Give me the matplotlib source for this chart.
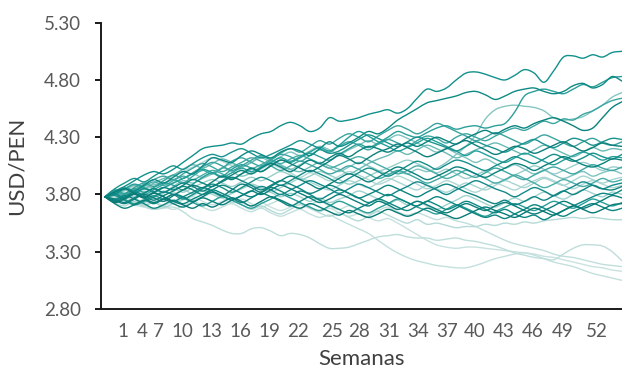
import numpy as np
import matplotlib
matplotlib.use('Agg')
import matplotlib.pyplot as plt
import matplotlib.colors as mcolors
from matplotlib.path import Path
from matplotlib.patches import PathPatch

plt.rcParams['font.family'] = ['Lato', 'DejaVu Sans']

# simulated USD/PEN paths, one value per week (week 0 .. 53)
sim01 = [3.78, 3.83, 3.87, 3.92, 3.97, 4.00, 3.98, 4.02, 4.08, 4.14,
         4.20, 4.22, 4.23, 4.25, 4.24, 4.29, 4.33, 4.35, 4.40, 4.43,
         4.40, 4.35, 4.38, 4.47, 4.44, 4.45, 4.47, 4.50, 4.52, 4.54,
         4.51, 4.55, 4.64, 4.72, 4.70, 4.73, 4.80, 4.86, 4.87, 4.85,
         4.82, 4.80, 4.84, 4.89, 4.86, 4.78, 4.88, 5.00, 5.01, 4.99,
         5.02, 5.00, 5.04, 5.05]
sim02 = [3.78, 3.80, 3.85, 3.83, 3.88, 3.93, 3.90, 3.95, 4.00, 3.98,
         4.05, 4.12, 4.10, 4.08, 4.14, 4.18, 4.15, 4.12, 4.17, 4.20,
         4.18, 4.14, 4.20, 4.26, 4.22, 4.25, 4.30, 4.35, 4.33, 4.38,
         4.45, 4.50, 4.55, 4.60, 4.62, 4.64, 4.66, 4.69, 4.70, 4.67,
         4.63, 4.66, 4.70, 4.72, 4.73, 4.70, 4.68, 4.70, 4.75, 4.77,
         4.73, 4.76, 4.83, 4.79]
sim03 = [3.78, 3.76, 3.80, 3.85, 3.82, 3.86, 3.90, 3.88, 3.84, 3.89,
         3.95, 3.99, 3.96, 4.02, 4.06, 4.03, 4.00, 4.05, 4.10, 4.08,
         4.12, 4.16, 4.13, 4.10, 4.15, 4.20, 4.24, 4.21, 4.25, 4.30,
         4.35, 4.32, 4.30, 4.34, 4.38, 4.40, 4.37, 4.39, 4.40, 4.38,
         4.40, 4.42, 4.52, 4.66, 4.70, 4.72, 4.70, 4.68, 4.72, 4.76,
         4.74, 4.78, 4.82, 4.83]
sim04 = [3.78, 3.81, 3.79, 3.84, 3.88, 3.85, 3.82, 3.87, 3.92, 3.90,
         3.94, 3.98, 4.03, 4.00, 3.96, 3.99, 4.04, 4.08, 4.05, 4.02,
         4.06, 4.10, 4.07, 4.03, 4.00, 4.04, 4.08, 4.05, 4.01, 3.98,
         4.00, 3.98, 4.02, 4.00, 4.03, 4.08, 4.15, 4.22, 4.32, 4.46,
         4.54, 4.57, 4.58, 4.57, 4.56, 4.53, 4.47, 4.45, 4.46, 4.48,
         4.53, 4.58, 4.65, 4.69]
sim05 = [3.78, 3.82, 3.86, 3.83, 3.80, 3.84, 3.89, 3.93, 3.90, 3.96,
         4.01, 3.98, 4.03, 4.09, 4.12, 4.08, 4.05, 4.10, 4.15, 4.13,
         4.09, 4.14, 4.19, 4.17, 4.22, 4.26, 4.23, 4.19, 4.24, 4.28,
         4.25, 4.22, 4.27, 4.31, 4.29, 4.25, 4.30, 4.33, 4.30, 4.27,
         4.31, 4.35, 4.38, 4.36, 4.40, 4.44, 4.42, 4.46, 4.45, 4.50,
         4.53, 4.58, 4.62, 4.64]
sim06 = [3.78, 3.74, 3.77, 3.81, 3.78, 3.82, 3.86, 3.84, 3.88, 3.93,
         3.90, 3.87, 3.92, 3.97, 4.01, 3.98, 4.03, 4.07, 4.04, 4.00,
         4.05, 4.10, 4.07, 4.12, 4.16, 4.13, 4.18, 4.22, 4.20, 4.17,
         4.21, 4.25, 4.22, 4.26, 4.30, 4.27, 4.24, 4.29, 4.33, 4.36,
         4.33, 4.37, 4.40, 4.38, 4.42, 4.45, 4.47, 4.44, 4.40, 4.36,
         4.38, 4.47, 4.56, 4.61]
sim07 = [3.78, 3.85, 3.90, 3.94, 3.91, 3.96, 4.01, 4.05, 4.02, 4.07,
         4.12, 4.15, 4.13, 4.17, 4.20, 4.16, 4.12, 4.15, 4.19, 4.23,
         4.27, 4.24, 4.20, 4.16, 4.18, 4.23, 4.28, 4.32, 4.29, 4.25,
         4.22, 4.26, 4.30, 4.27, 4.24, 4.21, 4.18, 4.22, 4.26, 4.23,
         4.20, 4.17, 4.21, 4.25, 4.28, 4.24, 4.21, 4.25, 4.29, 4.27,
         4.23, 4.26, 4.29, 4.28]
sim08 = [3.78, 3.75, 3.72, 3.76, 3.80, 3.77, 3.74, 3.79, 3.84, 3.88,
         3.86, 3.91, 3.96, 3.93, 3.98, 4.03, 4.00, 4.05, 4.10, 4.07,
         4.03, 4.00, 4.04, 4.09, 4.14, 4.11, 4.07, 4.12, 4.17, 4.20,
         4.24, 4.21, 4.17, 4.13, 4.16, 4.20, 4.24, 4.27, 4.23, 4.19,
         4.15, 4.18, 4.22, 4.20, 4.16, 4.19, 4.23, 4.26, 4.22, 4.18,
         4.21, 4.25, 4.23, 4.22]
sim09 = [3.78, 3.80, 3.84, 3.88, 3.85, 3.90, 3.94, 3.97, 4.02, 4.06,
         4.03, 4.07, 4.11, 4.08, 4.04, 4.08, 4.13, 4.10, 4.06, 4.02,
         4.00, 4.04, 4.08, 4.05, 4.02, 3.98, 4.02, 4.07, 4.11, 4.14,
         4.18, 4.15, 4.19, 4.23, 4.20, 4.16, 4.12, 4.15, 4.19, 4.22,
         4.25, 4.22, 4.18, 4.15, 4.19, 4.23, 4.20, 4.16, 4.13, 4.17,
         4.21, 4.18, 4.20, 4.19]
sim10 = [3.78, 3.79, 3.75, 3.71, 3.74, 3.78, 3.82, 3.80, 3.76, 3.80,
         3.85, 3.89, 3.86, 3.82, 3.86, 3.91, 3.95, 3.92, 3.88, 3.92,
         3.97, 4.01, 3.98, 3.94, 3.90, 3.94, 3.99, 4.03, 4.00, 3.96,
         4.00, 4.05, 4.09, 4.06, 4.02, 4.06, 4.10, 4.08, 4.04, 4.01,
         4.05, 4.09, 4.13, 4.10, 4.07, 4.11, 4.15, 4.12, 4.09, 4.12,
         4.16, 4.13, 4.11, 4.15]
sim11 = [3.78, 3.72, 3.68, 3.71, 3.75, 3.72, 3.76, 3.80, 3.78, 3.74,
         3.78, 3.82, 3.79, 3.84, 3.89, 3.86, 3.82, 3.87, 3.92, 3.96,
         3.93, 3.89, 3.85, 3.89, 3.94, 3.98, 3.95, 3.91, 3.95, 4.00,
         4.04, 4.01, 3.97, 3.93, 3.96, 4.00, 4.04, 4.02, 3.98, 3.95,
         3.99, 4.03, 4.07, 4.05, 4.01, 4.05, 4.09, 4.13, 4.10, 4.06,
         4.04, 4.07, 4.11, 4.10]
sim12 = [3.78, 3.83, 3.80, 3.84, 3.89, 3.93, 3.96, 3.93, 3.98, 4.03,
         4.07, 4.04, 4.00, 4.04, 4.08, 4.12, 4.09, 4.05, 4.01, 4.05,
         4.09, 4.06, 4.02, 3.98, 4.01, 4.05, 4.02, 3.98, 3.94, 3.97,
         4.01, 3.98, 3.94, 3.90, 3.93, 3.97, 4.01, 3.98, 3.95, 3.99,
         4.03, 4.00, 3.96, 3.93, 3.97, 4.01, 4.04, 4.01, 3.98, 4.02,
         4.06, 4.03, 4.01, 4.04]
sim13 = [3.78, 3.76, 3.80, 3.77, 3.73, 3.77, 3.81, 3.85, 3.82, 3.86,
         3.90, 3.93, 3.90, 3.87, 3.91, 3.95, 3.92, 3.96, 4.00, 3.97,
         3.93, 3.96, 4.00, 3.97, 3.93, 3.89, 3.92, 3.96, 4.00, 4.03,
         4.07, 4.10, 4.07, 4.03, 3.99, 4.02, 3.98, 3.94, 3.97, 4.00,
         3.96, 3.93, 3.97, 4.01, 4.05, 4.02, 3.98, 4.01, 4.05, 4.08,
         4.05, 4.01, 4.04, 4.03]
sim14 = [3.78, 3.74, 3.77, 3.74, 3.70, 3.73, 3.69, 3.72, 3.76, 3.79,
         3.83, 3.80, 3.77, 3.81, 3.85, 3.88, 3.85, 3.82, 3.86, 3.90,
         3.94, 3.91, 3.87, 3.84, 3.88, 3.92, 3.89, 3.86, 3.90, 3.94,
         3.91, 3.87, 3.84, 3.88, 3.85, 3.82, 3.86, 3.90, 3.87, 3.84,
         3.88, 3.92, 3.89, 3.86, 3.90, 3.94, 3.91, 3.88, 3.92, 3.96,
         3.93, 3.90, 3.93, 3.95]
sim15 = [3.78, 3.81, 3.77, 3.81, 3.85, 3.82, 3.78, 3.74, 3.78, 3.82,
         3.86, 3.83, 3.79, 3.75, 3.79, 3.83, 3.87, 3.84, 3.80, 3.84,
         3.88, 3.92, 3.89, 3.85, 3.81, 3.85, 3.89, 3.86, 3.82, 3.79,
         3.83, 3.87, 3.91, 3.88, 3.84, 3.80, 3.84, 3.88, 3.92, 3.89,
         3.85, 3.82, 3.78, 3.82, 3.86, 3.83, 3.79, 3.83, 3.87, 3.91,
         3.88, 3.85, 3.88, 3.90]
sim16 = [3.78, 3.74, 3.78, 3.82, 3.79, 3.75, 3.79, 3.83, 3.87, 3.84,
         3.80, 3.84, 3.88, 3.85, 3.81, 3.78, 3.82, 3.86, 3.83, 3.79,
         3.83, 3.80, 3.76, 3.80, 3.84, 3.81, 3.77, 3.73, 3.76, 3.80,
         3.77, 3.73, 3.70, 3.74, 3.71, 3.67, 3.70, 3.74, 3.71, 3.67,
         3.64, 3.67, 3.63, 3.60, 3.62, 3.58, 3.62, 3.66, 3.70, 3.74,
         3.78, 3.81, 3.80, 3.84]
sim17 = [3.78, 3.82, 3.85, 3.81, 3.77, 3.73, 3.76, 3.72, 3.69, 3.73,
         3.77, 3.74, 3.71, 3.75, 3.79, 3.83, 3.80, 3.84, 3.88, 3.85,
         3.81, 3.77, 3.73, 3.76, 3.80, 3.77, 3.73, 3.70, 3.74, 3.71,
         3.67, 3.70, 3.74, 3.71, 3.67, 3.64, 3.68, 3.72, 3.69, 3.66,
         3.70, 3.73, 3.70, 3.66, 3.63, 3.66, 3.70, 3.74, 3.71, 3.68,
         3.71, 3.75, 3.79, 3.77]
sim18 = [3.78, 3.80, 3.76, 3.72, 3.75, 3.79, 3.76, 3.80, 3.77, 3.73,
         3.70, 3.74, 3.78, 3.75, 3.71, 3.68, 3.72, 3.76, 3.80, 3.77,
         3.73, 3.69, 3.66, 3.70, 3.74, 3.71, 3.67, 3.64, 3.68, 3.72,
         3.76, 3.73, 3.69, 3.66, 3.63, 3.67, 3.71, 3.68, 3.64, 3.61,
         3.65, 3.69, 3.72, 3.69, 3.66, 3.70, 3.74, 3.71, 3.68, 3.72,
         3.76, 3.73, 3.70, 3.73]
sim19 = [3.78, 3.75, 3.79, 3.76, 3.72, 3.68, 3.71, 3.75, 3.72, 3.76,
         3.80, 3.84, 3.81, 3.77, 3.73, 3.77, 3.81, 3.78, 3.74, 3.70,
         3.74, 3.78, 3.75, 3.71, 3.67, 3.64, 3.68, 3.72, 3.76, 3.73,
         3.69, 3.66, 3.70, 3.74, 3.78, 3.75, 3.71, 3.67, 3.63, 3.60,
         3.62, 3.59, 3.63, 3.67, 3.71, 3.68, 3.64, 3.61, 3.65, 3.69,
         3.72, 3.69, 3.66, 3.68]
sim20 = [3.78, 3.73, 3.70, 3.74, 3.71, 3.67, 3.70, 3.74, 3.78, 3.75,
         3.71, 3.74, 3.78, 3.75, 3.71, 3.67, 3.70, 3.66, 3.63, 3.67,
         3.71, 3.68, 3.64, 3.61, 3.64, 3.60, 3.57, 3.61, 3.65, 3.62,
         3.58, 3.55, 3.58, 3.54, 3.55, 3.53, 3.51, 3.52, 3.52, 3.54,
         3.53, 3.55, 3.54, 3.56, 3.55, 3.57, 3.58, 3.59, 3.60, 3.59,
         3.60, 3.59, 3.58, 3.58]
sim21 = [3.78, 3.76, 3.74, 3.71, 3.69, 3.67, 3.68, 3.69, 3.65, 3.59,
         3.56, 3.53, 3.49, 3.46, 3.46, 3.50, 3.51, 3.48, 3.44, 3.46,
         3.45, 3.42, 3.37, 3.33, 3.33, 3.34, 3.37, 3.40, 3.43, 3.44,
         3.45, 3.43, 3.42, 3.42, 3.40, 3.41, 3.42, 3.40, 3.39, 3.37,
         3.35, 3.32, 3.29, 3.27, 3.25, 3.24, 3.23, 3.28, 3.33, 3.36,
         3.36, 3.35, 3.30, 3.22]
sim22 = [3.78, 3.75, 3.78, 3.74, 3.71, 3.74, 3.70, 3.67, 3.70, 3.73,
         3.69, 3.66, 3.69, 3.72, 3.68, 3.65, 3.68, 3.64, 3.61, 3.64,
         3.67, 3.63, 3.60, 3.62, 3.58, 3.54, 3.50, 3.46, 3.40, 3.34,
         3.29, 3.25, 3.22, 3.20, 3.18, 3.17, 3.16, 3.16, 3.18, 3.21,
         3.24, 3.26, 3.28, 3.29, 3.27, 3.24, 3.21, 3.19, 3.17, 3.14,
         3.11, 3.09, 3.07, 3.05]
sim23 = [3.78, 3.80, 3.76, 3.73, 3.76, 3.79, 3.75, 3.72, 3.75, 3.78,
         3.74, 3.71, 3.74, 3.77, 3.73, 3.70, 3.73, 3.69, 3.66, 3.69,
         3.72, 3.68, 3.65, 3.68, 3.64, 3.61, 3.63, 3.60, 3.57, 3.59,
         3.55, 3.50, 3.45, 3.40, 3.36, 3.34, 3.33, 3.34, 3.34, 3.33,
         3.32, 3.31, 3.30, 3.29, 3.28, 3.26, 3.25, 3.23, 3.21, 3.19,
         3.17, 3.16, 3.14, 3.13]
sim24 = [3.78, 3.82, 3.79, 3.83, 3.87, 3.91, 3.88, 3.92, 3.96, 3.93,
         3.97, 4.01, 3.98, 3.94, 3.98, 4.02, 4.06, 4.10, 4.07, 4.11,
         4.14, 4.11, 4.07, 4.03, 4.06, 4.10, 4.13, 4.10, 4.06, 4.02,
         3.98, 4.01, 4.05, 4.02, 3.98, 3.94, 3.97, 4.01, 3.98, 3.94,
         3.90, 3.93, 3.97, 3.94, 3.90, 3.86, 3.89, 3.93, 3.90, 3.87,
         3.90, 3.94, 3.91, 3.93]
sim25 = [3.78, 3.76, 3.73, 3.77, 3.81, 3.85, 3.82, 3.86, 3.90, 3.87,
         3.83, 3.87, 3.91, 3.95, 3.92, 3.88, 3.84, 3.88, 3.92, 3.89,
         3.85, 3.81, 3.84, 3.88, 3.85, 3.81, 3.77, 3.80, 3.84, 3.88,
         3.85, 3.81, 3.78, 3.82, 3.86, 3.89, 3.86, 3.82, 3.79, 3.75,
         3.72, 3.75, 3.71, 3.74, 3.78, 3.75, 3.79, 3.83, 3.80, 3.84,
         3.88, 3.85, 3.84, 3.87]
sim26 = [3.78, 3.81, 3.85, 3.89, 3.86, 3.82, 3.86, 3.90, 3.94, 3.98,
         4.02, 3.99, 3.95, 3.99, 4.03, 4.00, 4.04, 4.08, 4.12, 4.09,
         4.13, 4.17, 4.21, 4.18, 4.23, 4.30, 4.35, 4.31, 4.26, 4.22,
         4.18, 4.21, 4.25, 4.29, 4.26, 4.22, 4.18, 4.14, 4.18, 4.15,
         4.11, 4.08, 4.12, 4.16, 4.13, 4.09, 4.06, 4.10, 4.14, 4.17,
         4.14, 4.10, 4.13, 4.12]
sim27 = [3.78, 3.77, 3.81, 3.78, 3.82, 3.79, 3.83, 3.80, 3.84, 3.81,
         3.85, 3.82, 3.78, 3.81, 3.85, 3.89, 3.86, 3.82, 3.78, 3.81,
         3.78, 3.74, 3.77, 3.73, 3.76, 3.79, 3.83, 3.80, 3.76, 3.72,
         3.75, 3.71, 3.74, 3.70, 3.67, 3.71, 3.75, 3.79, 3.76, 3.72,
         3.69, 3.73, 3.77, 3.74, 3.78, 3.82, 3.79, 3.76, 3.80, 3.84,
         3.81, 3.78, 3.82, 3.80]
sim28 = [3.78, 3.80, 3.84, 3.81, 3.85, 3.89, 3.86, 3.90, 3.94, 3.98,
         3.95, 3.99, 4.03, 4.07, 4.04, 4.08, 4.12, 4.09, 4.13, 4.17,
         4.14, 4.18, 4.22, 4.19, 4.15, 4.19, 4.23, 4.27, 4.24, 4.28,
         4.32, 4.29, 4.25, 4.21, 4.17, 4.20, 4.16, 4.12, 4.08, 4.11,
         4.07, 4.03, 4.06, 4.02, 3.98, 4.01, 3.97, 3.94, 3.97, 4.00,
         3.96, 3.99, 4.01, 3.98]
sim29 = [3.78, 3.73, 3.76, 3.80, 3.77, 3.81, 3.78, 3.74, 3.71, 3.68,
         3.72, 3.69, 3.73, 3.77, 3.74, 3.70, 3.74, 3.78, 3.75, 3.71,
         3.68, 3.72, 3.69, 3.65, 3.62, 3.66, 3.63, 3.60, 3.63, 3.67,
         3.64, 3.61, 3.64, 3.68, 3.65, 3.62, 3.59, 3.62, 3.66, 3.69,
         3.66, 3.63, 3.60, 3.64, 3.68, 3.65, 3.62, 3.66, 3.70, 3.67,
         3.64, 3.67, 3.71, 3.72]
sim30 = [3.78, 3.84, 3.81, 3.86, 3.90, 3.87, 3.92, 3.97, 3.94, 3.99,
         4.04, 4.08, 4.05, 4.01, 4.05, 4.10, 4.14, 4.11, 4.16, 4.20,
         4.17, 4.22, 4.27, 4.24, 4.29, 4.33, 4.30, 4.26, 4.31, 4.36,
         4.40, 4.37, 4.33, 4.37, 4.42, 4.39, 4.35, 4.31, 4.27, 4.30,
         4.34, 4.31, 4.27, 4.24, 4.28, 4.32, 4.29, 4.25, 4.22, 4.26,
         4.29, 4.25, 4.23, 4.26]
sim31 = [3.78, 3.79, 3.83, 3.87, 3.84, 3.88, 3.92, 3.96, 4.00, 4.04,
         4.08, 4.12, 4.09, 4.05, 4.01, 3.98, 4.02, 4.06, 4.03, 3.99,
         3.95, 3.99, 3.96, 3.92, 3.96, 4.00, 3.97, 3.93, 3.89, 3.92,
         3.96, 3.93, 3.89, 3.85, 3.88, 3.92, 3.89, 3.85, 3.82, 3.86,
         3.90, 3.87, 3.84, 3.88, 3.92, 3.95, 3.92, 3.88, 3.85, 3.89,
         3.92, 3.89, 3.86, 3.88]
sim32 = [3.78, 3.76, 3.79, 3.83, 3.80, 3.76, 3.79, 3.82, 3.78, 3.75,
         3.78, 3.81, 3.77, 3.73, 3.76, 3.72, 3.69, 3.72, 3.75, 3.71,
         3.68, 3.71, 3.74, 3.70, 3.67, 3.70, 3.66, 3.63, 3.66, 3.69,
         3.65, 3.62, 3.64, 3.61, 3.58, 3.60, 3.57, 3.55, 3.52, 3.48,
         3.44, 3.40, 3.37, 3.35, 3.33, 3.31, 3.28, 3.26, 3.25, 3.23,
         3.21, 3.19, 3.18, 3.17]

sims = [sim01, sim02, sim03, sim04, sim05, sim06, sim07, sim08, sim09, sim10,
        sim11, sim12, sim13, sim14, sim15, sim16, sim17, sim18, sim19, sim20,
        sim21, sim22, sim23, sim24, sim25, sim26, sim27, sim28, sim29, sim30,
        sim31, sim32]
colors = ['#12908B', '#0E8A85', '#2B9F9A', '#85C6C2', '#3AA6A1', '#0A827D',
          '#1B948F', '#0C7F7B', '#6BBAB5', '#168F8A', '#0B817C', '#3FA7A2',
          '#9ACFCB', '#A7D5D1', '#12898A', '#0E8782', '#0A7E7A', '#2A9E99',
          '#0D8580', '#B5DAD7', '#BEDEDB', '#C3E0DE', '#C8E2E0', '#49ADA8',
          '#0F8480', '#24A09B', '#A0D2CE', '#7FC3BF', '#087B77', '#3AA39E',
          '#B0D8D4', '#C0DFDC']

weeks = np.arange(54)
tick_labels = [1, 4, 7, 10, 13, 16, 19, 22, 25, 28, 31, 34, 37, 40, 43, 46, 49, 52]
tick_pos = [1.85, 3.79, 5.43, 7.89, 10.87, 13.84, 16.81, 19.78, 23.27, 26.04,
            29.11, 32.09, 35.06, 37.93, 40.90, 43.88, 46.95, 50.43]

bad = [i + 1 for i, s in enumerate(sims) if len(s) != len(weeks)]
assert not bad, 'wrong length: %s' % [(b, len(sims[b - 1])) for b in bad]


def smooth_path(x, y):
    # smoothed line like excel: cubic bezier through every point
    verts = [(x[0], y[0])]
    codes = [Path.MOVETO]
    n = len(x)
    for i in range(n - 1):
        xa, ya = (x[i - 1], y[i - 1]) if i > 0 else (x[i], y[i])
        xb, yb = (x[i + 2], y[i + 2]) if i + 2 < n else (x[i + 1], y[i + 1])
        c1 = (x[i] + (x[i + 1] - xa) / 6, y[i] + (y[i + 1] - ya) / 6)
        c2 = (x[i + 1] - (xb - x[i]) / 6, y[i + 1] - (yb - y[i]) / 6)
        verts += [c1, c2, (x[i + 1], y[i + 1])]
        codes += [Path.CURVE4] * 3
    return Path(verts, codes)


fig = plt.figure(figsize=(6.22, 3.68), dpi=100)
ax = fig.add_axes([101 / 622, 59 / 368, 521 / 622, 286.3 / 368])

for s, c in zip(sims, colors):
    light = sum(mcolors.to_rgb(c))
    ax.add_patch(PathPatch(smooth_path(weeks, s), fill=False, edgecolor=c,
                           lw=1.0, zorder=5 - light, capstyle='round'))

ax.set_xlim(-0.41, 53)
ax.set_ylim(2.8, 5.3)
ax.set_yticks([2.8, 3.3, 3.8, 4.3, 4.8, 5.3])
ax.set_yticklabels(['%.2f' % v for v in [2.8, 3.3, 3.8, 4.3, 4.8, 5.3]])
ax.set_xticks(tick_pos)
ax.set_xticklabels([str(t) for t in tick_labels])

for side in ['top', 'right']:
    ax.spines[side].set_visible(False)
for side in ['left', 'bottom']:
    ax.spines[side].set_linewidth(1.4)
    ax.spines[side].set_color('#1a1a1a')

ax.tick_params(axis='y', length=4.5, width=1.4, color='#1a1a1a', pad=10,
               labelsize=13.5, labelcolor='#595959')
ax.tick_params(axis='x', length=0, pad=10, labelsize=13.5, labelcolor='#595959')

ax.set_ylabel('USD/PEN', fontsize=16, color='#404040')
ax.yaxis.set_label_coords(-0.142, 0.5)
ax.set_xlabel('Semanas', fontsize=16, color='#404040')
ax.xaxis.set_label_coords(0.5, -0.14)

fig.savefig('out.png', dpi=100)
